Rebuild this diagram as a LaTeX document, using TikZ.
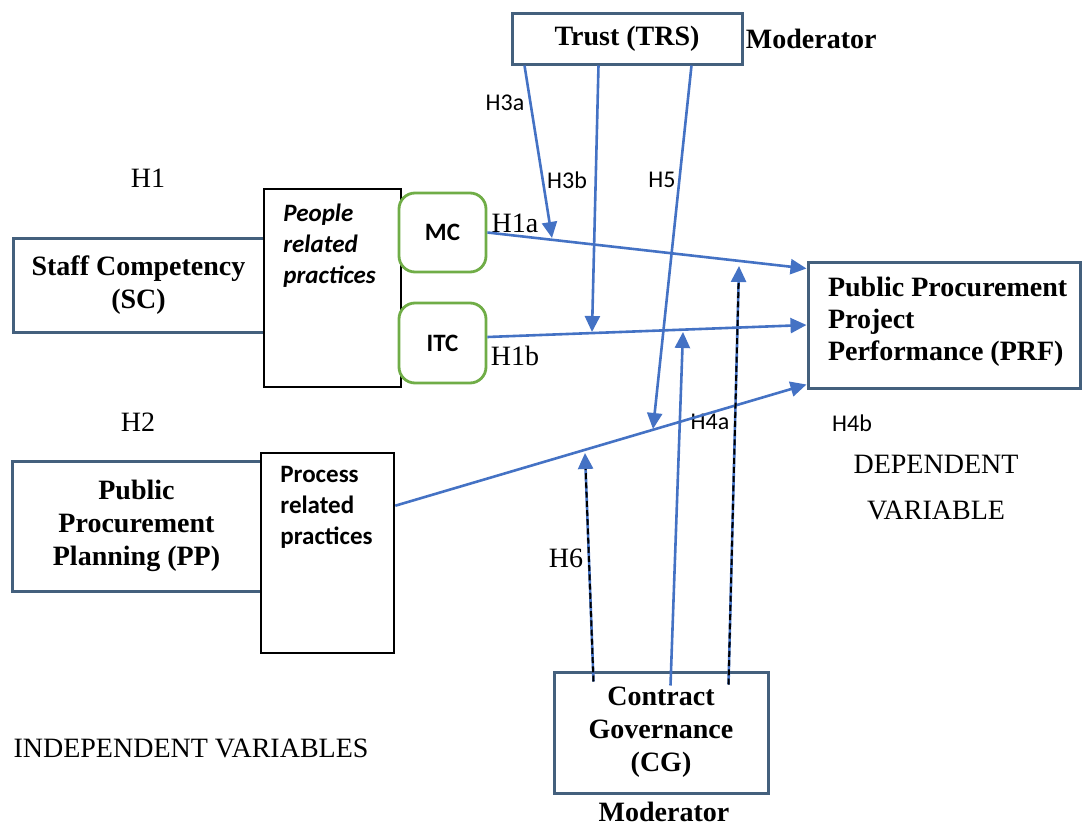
\documentclass[tikz,border=0pt]{standalone}
\usepackage{fontspec}
\setmainfont{Liberation Serif}
\setsansfont{Carlito}
\usetikzlibrary{arrows.meta,calc}
\definecolor{boxblue}{RGB}{68,96,125}
\definecolor{linkblue}{RGB}{68,114,196}
\definecolor{dimgreen}{RGB}{112,173,71}
\tikzstyle{Var}=[draw=boxblue,line width=1.5pt,fill=white,inner sep=0pt,align=center,
                font=\fontsize{14}{16.5}\selectfont\bfseries]
\tikzstyle{Prac}=[draw=black,line width=1.3pt,fill=white,inner sep=0pt]
\tikzstyle{Dim}=[draw=dimgreen,line width=1.4pt,rounded corners=8pt,fill=white,inner sep=0pt,
                minimum width=43.5pt,minimum height=39.5pt,font=\sffamily\fontsize{12.5}{15}\selectfont\bfseries]
\tikzstyle{Ptxt}=[anchor=north west,align=left,inner sep=0pt,font=\sffamily\fontsize{12.5}{15.5}\selectfont\bfseries]
\tikzstyle{Hs}=[inner sep=1pt,font=\sffamily\fontsize{12}{14}\selectfont]
\tikzstyle{Hr}=[inner sep=1pt,font=\fontsize{14}{16}\selectfont]
\tikzstyle{Mod}=[inner sep=1pt,font=\fontsize{14}{16}\selectfont\bfseries]
\tikzstyle{link}=[every edge/.style={draw=linkblue,line width=1.3pt,-{Triangle[length=8pt,width=7.5pt]}}]
\tikzstyle{gov}=[postaction={draw=black,-,line width=1pt,dash pattern=on 3pt off 1.6pt,shorten >=8pt}]

\begin{document}
\begin{tikzpicture}[x=0.5pt,y=-0.5pt,link]
\useasboundingbox (0,0) rectangle (1083,825);

% variables
\node[Var,minimum width=115pt,minimum height=25.5pt] (trs) at (627,38.5) {Trust (TRS)};
\node[Mod,anchor=west] (trsmod) at (trs.east) {Moderator};
\node[Var,minimum width=125.5pt,minimum height=47pt] (sc) at (138.5,285) {Staff Competency\\(SC)};
\node[Var,minimum width=124.5pt,minimum height=65pt] (pp) at (136.5,526) {Public\\Procurement\\Planning (PP)};
\node[Var,minimum width=136pt,minimum height=63pt] (prf) at (944,325) {};
\node[Var,draw=none,fill=none,align=left,anchor=west,font=\fontsize{14}{16}\selectfont\bfseries] (prftxt)
  at ($(prf.west)+(20,-3)$) {Public Procurement\\Project\\Performance (PRF)};
\node[Var,minimum width=107pt,minimum height=60.5pt] (cg) at (661,732.5) {Contract\\Governance\\(CG)};
\node[Mod] (cgmod) at (664,812) {Moderator};

% practices
\node[Prac,minimum width=68.5pt,minimum height=99pt] (people) at (332.5,288) {};
\node[Ptxt] (peopletxt) at (283,204) {\itshape People\\\itshape related\\\itshape practices};
\node[Prac,minimum width=66.5pt,minimum height=100pt] (process) at (327.5,553) {};
\node[Ptxt] (processtxt) at (280,466) {Process\\related\\practices};
\node[Dim] (mc) at (442.5,232.5) {MC};
\node[Dim,minimum height=40pt] (itc) at (442.5,343) {ITC};

% labels
\node[Hr] (h1) at (148,178) {H1};
\node[Hr] (h2) at (138,422) {H2};
\node[Hr] (h1a) at (515,223) {H1a};
\node[Hr] (h1b) at (515,356) {H1b};
\node[Hs] (h3a) at (505,103) {H3a};
\node[Hs] (h3b) at (567,180) {H3b};
\node[Hs] (h5) at (662,180) {H5};
\node[Hs] (h4a) at (710,422) {H4a};
\node[Hs] (h4b) at (852,423) {H4b};
\node[Hr] (h6) at (566,558) {H6};
\node[Hr,align=center,font=\fontsize{14}{23}\selectfont] (dep) at (936,488) {DEPENDENT\\VARIABLE};
\node[Hr] (indep) at (191,748) {INDEPENDENT VARIABLES};

% end points
\coordinate (itcout) at ($(itc.east)+(0,-6)$);
\coordinate (procout) at ($(process.north east)+(0,54)$);
\coordinate (prfa) at ($(prf.north west)+(0,8)$);
\coordinate (prfc) at ($(prf.south west)+(0,-5)$);
\coordinate (t1) at ($(trs.south west)+(14,0)$);
\coordinate (t2) at ($(trs.south west)+(88,0)$);
\coordinate (t3) at ($(trs.south west)+(181,0)$);
\coordinate (g1) at ($(cg.north west)+(41,11)$);
\coordinate (g2) at ($(cg.north west)+(118,15)$);
\coordinate (g3) at ($(cg.north west)+(176,14)$);
\coordinate (e3a) at (552,238);
\coordinate (e3b) at (592,332);
\coordinate (e5) at (653,429);
\coordinate (e6) at (585,453);
\coordinate (e4a) at (683,332);
\coordinate (e4b) at (739,266);

\path
(mc.east) edge (prfa)
(itcout) edge (prf.west)
(procout) edge (prfc)
(t1) edge (e3a) (t2) edge (e3b) (t3) edge (e5)
(g1) edge[gov] (e6)
(g2) edge (e4a)
(g3) edge[gov] (e4b)
;
\end{tikzpicture}
\end{document}
